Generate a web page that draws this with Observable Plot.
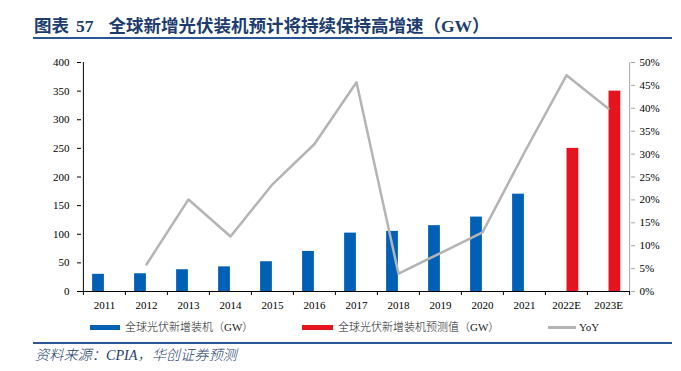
<!DOCTYPE html>
<html>
<head>
<meta charset="utf-8">
<script src="https://cdn.jsdelivr.net/npm/d3@7"></script>
<script src="https://cdn.jsdelivr.net/npm/@observablehq/plot@0.6"></script>
<style>
  html, body { margin: 0; padding: 0; background: #fff; }
  #wrap { position: relative; width: 681px; height: 371px; overflow: hidden; background: #fff; }
  .abs { position: absolute; white-space: nowrap; }
  #title { left: 34px; top: 16px; line-height: 20px; font-size: 17.5px; font-weight: bold; color: #1d3d70;
           font-family: "Liberation Serif", "Noto Sans CJK SC", serif; }
  #title .num { margin-left: 7px; margin-right: 15px; }
  .rule { background: #2b5796; }
  #chart { left: 0; top: 40px; }
  .leg { font-size: 11px; line-height: 14px; color: #222; font-family: "Liberation Serif", "Noto Sans CJK SC", serif; font-weight: 300; }
  #caption { left: 35px; top: 347px; line-height: 16px; font-size: 14.2px; font-style: italic; color: #1d3d70;
             font-family: "Liberation Serif", "Noto Sans CJK SC", serif; font-weight: 300; }
</style>
</head>
<body>
<div id="wrap">
  <div id="title" class="abs">图表<span class="num">57</span>全球新增光伏装机预计将持续保持高增速（GW）</div>
  <div class="abs rule" style="left:33px;top:37px;width:639px;height:2px;"></div>
  <div id="chart" class="abs"></div>
  <div class="abs" style="left:90px;top:325px;width:30px;height:5px;background:#0060b6;"></div>
  <div class="abs leg" style="left:125px;top:320px;">全球光伏新增装机（GW）</div>
  <div class="abs" style="left:302px;top:325px;width:31px;height:5px;background:#e5151f;"></div>
  <div class="abs leg" style="left:338px;top:320px;">全球光伏新增装机预测值（GW）</div>
  <div class="abs" style="left:548px;top:326px;width:28px;height:2.5px;background:#b4b4b4;"></div>
  <div class="abs leg" style="left:579px;top:320px;">YoY</div>
  <div class="abs rule" style="left:33px;top:342px;width:639px;height:1.5px;"></div>
  <div id="caption" class="abs">资料来源：CPIA，华创证券预测</div>
</div>
<script>
// ---- data ----
const categories = ["2011","2012","2013","2014","2015","2016","2017","2018","2019","2020","2021","2022E","2023E"];
const actualYears = ["2011","2012","2013","2014","2015","2016","2017","2018","2019","2020","2021"];
const actualGW = [30, 31, 38, 43, 52, 70, 102, 105, 115, 130, 170];
const forecastYears = ["2022E","2023E"];
const forecastGW = [250, 350];
const yoyYears = ["2012","2013","2014","2015","2016","2017","2018","2019","2020","2021","2022E","2023E"];
const yoyPct = [5.9, 20.1, 12.0, 23.4, 32.2, 45.7, 3.9, 8.4, 12.9, 30.4, 47.2, 39.9];
const leftTicks = [0, 50, 100, 150, 200, 250, 300, 350, 400];
const rightTicksPct = [0, 5, 10, 15, 20, 25, 30, 35, 40, 45, 50];

// ---- layout ----
const W = 681, H = 280, mL = 81, mR = 51, mT = 22, mB = 29;
const leftMax = 400, rightMax = 50, k = leftMax / rightMax; // map % onto the GW scale
const bw = (W - mL - mR) / categories.length;
const barW = 12;

const actual = actualYears.map((c, i) => ({c, v: actualGW[i]}));
const forecast = forecastYears.map((c, i) => ({c, v: forecastGW[i]}));
const yoy = yoyYears.map((c, i) => ({c, v: yoyPct[i] * k}));

const serif = "Liberation Serif, serif";

const chart = Plot.plot({
  width: W, height: H,
  marginLeft: mL, marginRight: mR, marginTop: mT, marginBottom: mB,
  style: {fontFamily: serif, fontSize: "11px", color: "#000", background: "transparent"},
  x: {type: "band", domain: categories, paddingInner: 0, paddingOuter: 0, label: null},
  y: {domain: [0, leftMax], label: null},
  marks: [
    Plot.barY(actual, {x: "c", y: "v", fill: "#0060b6", insetLeft: bw / 2 - barW, insetRight: bw / 2}),
    Plot.barY(forecast, {x: "c", y: "v", fill: "#e5151f", insetLeft: bw / 2 + 0.4, insetRight: bw / 2 - barW - 0.4}),
    Plot.line(yoy, {x: "c", y: "v", stroke: "#b4b4b4", strokeWidth: 2.5}),
    // axis lines
    Plot.ruleX([categories[categories.length - 1]], {dx: bw / 2, stroke: "#a6a6a6", strokeWidth: 1}),
    Plot.ruleX([categories[0]], {dx: -bw / 2, stroke: "#000", strokeWidth: 1}),
    Plot.ruleY([0], {stroke: "#000", strokeWidth: 1}),
    // left axis
    Plot.axisY(leftTicks, {anchor: "left", tickSize: 4, tickPadding: 8, stroke: "#000", fill: "#000", fontSize: 11}),
    // right axis (percent)
    Plot.axisY(rightTicksPct.map(d => d * k), {anchor: "right", tickSize: 4, tickPadding: 5, stroke: "#a6a6a6", tickFormat: () => ""}),
    Plot.axisY(rightTicksPct.map(d => d * k), {anchor: "right", tickSize: 0, tickPadding: 9, fill: "#000", fontSize: 11, tickFormat: d => `${d / k}%`}),
    // x axis labels and boundary ticks
    Plot.axisX(categories, {anchor: "bottom", tickSize: 0, tickPadding: 10, fill: "#000", fontSize: 11}),
    Plot.axisX(categories, {anchor: "bottom", tickSize: 4, stroke: "#000", dx: -bw / 2, tickFormat: () => ""}),
    Plot.axisX([categories[categories.length - 1]], {anchor: "bottom", tickSize: 4, stroke: "#000", dx: bw / 2, tickFormat: () => ""})
  ]
});
document.getElementById("chart").appendChild(chart);
</script>
</body>
</html>
